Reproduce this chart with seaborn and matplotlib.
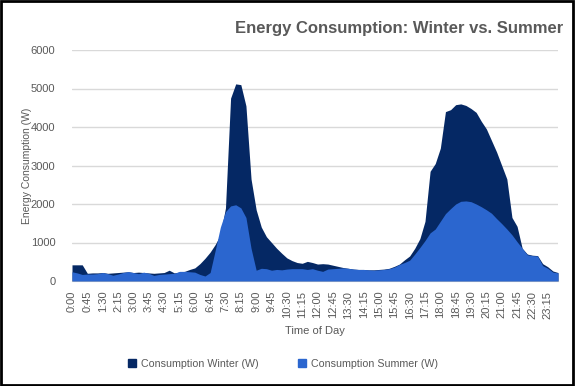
import numpy as np
import pandas as pd
import matplotlib
matplotlib.use("Agg")
import matplotlib.pyplot as plt
import seaborn as sns
from matplotlib.patches import Rectangle, Patch

times = [f"{h}:{m:02d}" for h in range(24) for m in (0, 15, 30, 45)]

winter = [420, 420, 420, 200, 210, 210, 220, 200, 210, 220, 230, 240, 220, 230, 220, 210,
          200, 210, 220, 280, 210, 230, 250, 300, 340, 450, 590, 750, 950, 1200, 1900, 4750,
          5120, 5100, 4550, 2650, 1850, 1400, 1150, 1000, 850, 720, 600, 530, 480, 460, 510, 480,
          440, 450, 440, 410, 380, 350, 330, 310, 300, 300, 290, 290, 300, 310, 330, 380,
          440, 550, 650, 850, 1100, 1550, 2850, 3050, 3450, 4400, 4450, 4580, 4600, 4560, 4480, 4380,
          4150, 3950, 3650, 3350, 3000, 2650, 1650, 1420, 850, 700, 670, 660, 450, 370, 260, 220]

summer = [240, 210, 170, 180, 180, 190, 220, 190, 150, 180, 220, 245, 220, 190, 230, 200,
          145, 170, 180, 190, 200, 250, 250, 240, 230, 170, 130, 220, 800, 1400, 1800, 1950,
          1980, 1900, 1650, 850, 280, 330, 320, 280, 300, 290, 310, 320, 320, 320, 300, 320,
          280, 250, 310, 320, 330, 340, 330, 310, 300, 300, 290, 280, 290, 300, 320, 360,
          430, 480, 540, 700, 870, 1050, 1250, 1350, 1550, 1750, 1880, 2000, 2070, 2080, 2060, 2000,
          1930, 1850, 1760, 1620, 1490, 1350, 1200, 1020, 850, 680, 660, 650, 400, 330, 230, 210]

y_ticks = [0, 1000, 2000, 3000, 4000, 5000, 6000]

df = pd.DataFrame({"idx": np.arange(len(times)), "time": times,
                   "Consumption Winter (W)": winter, "Consumption Summer (W)": summer})

sns.set_style("white")
plt.rcParams['font.family'] = ['Liberation Sans', 'DejaVu Sans']

c_winter = "#052864"
c_summer = "#2B66CF"
gray = "#595959"

fig = plt.figure(figsize=(5.75, 3.86), dpi=100)
ax = fig.add_axes([72/575, 1-281/386, (558-72)/575, (281-50)/386])

sns.lineplot(data=df, x="idx", y="Consumption Winter (W)", ax=ax, color=c_winter, linewidth=0)
sns.lineplot(data=df, x="idx", y="Consumption Summer (W)", ax=ax, color=c_summer, linewidth=0)
ax.fill_between(df["idx"], 0, df["Consumption Winter (W)"], color=c_winter, linewidth=0, zorder=2)
ax.fill_between(df["idx"], 0, df["Consumption Summer (W)"], color=c_summer, linewidth=0, zorder=3)

ax.set_xlim(0, len(times) - 1)
ax.set_ylim(0, 6000)
ax.set_yticks(y_ticks)
ax.set_yticklabels([str(v) for v in y_ticks], fontsize=8, color=gray)
ax.grid(axis="y", color="#D9D9D9", linewidth=1, zorder=0)
ax.set_axisbelow(True)

ax.set_xticks(df["idx"][::3])
ax.set_xticklabels(df["time"][::3], rotation=90, fontsize=8, color=gray)
ax.set_xticks(df["idx"], minor=True)
ax.tick_params(axis="x", which="both", length=4, color="#BFBFBF", width=0.8, pad=3)
ax.tick_params(axis="y", length=0, pad=12)

for s in ["top", "right", "left"]:
    ax.spines[s].set_visible(False)
ax.spines["bottom"].set_color("#BFBFBF")

ax.set_xlabel("Time of Day", fontsize=8, color=gray, labelpad=5)
ax.set_ylabel("Energy Consumption (W)", fontsize=7.5, color=gray)
ax.yaxis.set_label_coords(-(72 - 32) / (558 - 72), 0.5)

fig.text(563/575, 1-28/386, "Energy Consumption: Winter vs. Summer", ha="right", va="center",
         fontsize=12, fontweight="bold", color=gray)

handles = [Patch(color=c_winter, label="Consumption Winter (W)"),
           Patch(color=c_summer, label="Consumption Summer (W)")]
fig.legend(handles=handles, loc="center", bbox_to_anchor=(283/575, 1-364/386), ncol=2, frameon=False,
           fontsize=7.7, handlelength=0.75, handleheight=0.75, columnspacing=3.7, handletextpad=0.5,
           labelcolor=gray)

fig.add_artist(Rectangle((0.002, 0.003), 0.995, 0.994, transform=fig.transFigure, fill=False,
                         edgecolor="black", linewidth=2))

fig.savefig("out.png", dpi=100)
